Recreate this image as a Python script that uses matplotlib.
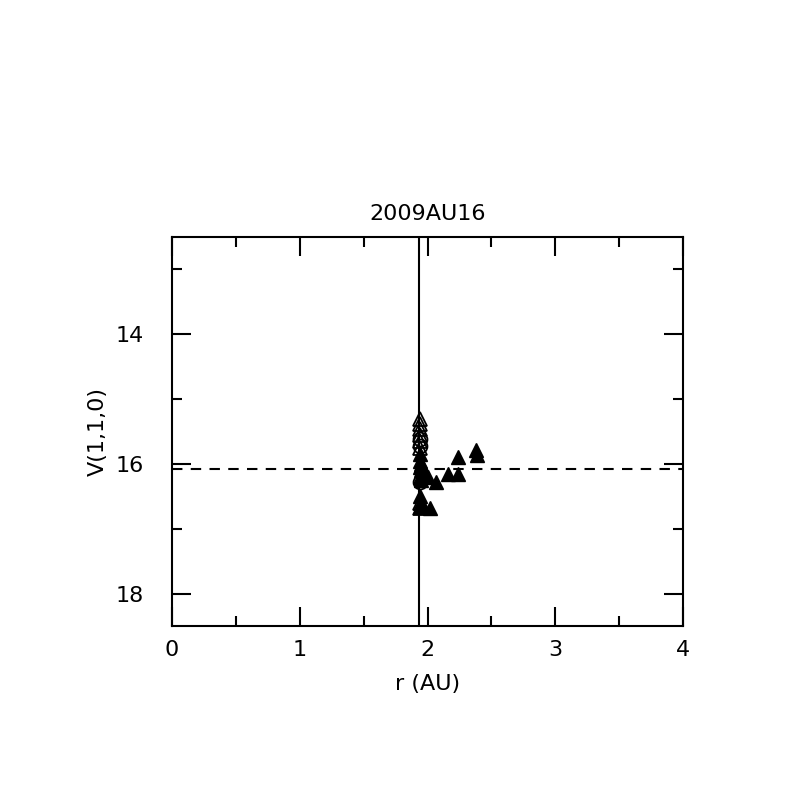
import numpy as np
import matplotlib.pyplot as plt
from matplotlib.ticker import MultipleLocator

# open triangles (near r = 1.94)
open_tri_r = [1.94, 1.94, 1.94, 1.94, 1.94, 1.94, 1.94, 1.94]
open_tri_v = [15.3, 15.38, 15.46, 15.55, 15.65, 15.75, 16.6, 16.68]

# open circles
open_circ_r = [1.94, 1.94, 1.94]
open_circ_v = [15.62, 15.72, 16.28]

# filled triangles
fill_tri_r = [1.94, 1.94, 1.95, 1.94, 1.95, 1.94, 1.95, 1.94, 1.95,
              2.00, 2.07, 2.16, 2.24, 2.24, 2.38, 2.39, 2.02, 1.94]
fill_tri_v = [15.85, 15.95, 16.0, 16.05, 16.1, 16.2, 16.25, 16.5, 16.58,
              16.2, 16.28, 16.15, 16.15, 15.89, 15.78, 15.86, 16.68, 16.66]

r_line = 1.93
v_line = 16.08

fig = plt.figure(figsize=(7.97, 7.97), dpi=100)
ax = fig.add_axes([0.2158, 0.2146, 0.6412, 0.488])

ax.axvline(r_line, color='black', lw=1.5)
ax.axhline(v_line, color='black', lw=1.5, ls=(0, (5, 4)))

ax.plot(fill_tri_r, fill_tri_v, '^', color='black', ms=10, ls='none')
ax.plot(open_tri_r, open_tri_v, '^', mfc='none', mec='black', mew=1.3, ms=10, ls='none')
ax.plot(open_circ_r, open_circ_v, 'o', mfc='none', mec='black', mew=1.3, ms=10, ls='none')

ax.set_xlim(0, 4)
ax.set_ylim(18.5, 12.5)
ax.xaxis.set_major_locator(MultipleLocator(1))
ax.xaxis.set_minor_locator(MultipleLocator(0.5))
ax.yaxis.set_major_locator(MultipleLocator(2))
ax.yaxis.set_minor_locator(MultipleLocator(1))
ax.tick_params(which='both', direction='in', top=True, right=True, width=1.5, labelsize=16)
ax.tick_params(which='major', length=14, pad=10)
ax.tick_params(axis='y', which='major', pad=20)
ax.tick_params(which='minor', length=7)
for s in ax.spines.values():
    s.set_linewidth(1.5)

ax.set_xlabel('r (AU)', fontsize=16, labelpad=10)
ax.set_ylabel('V(1,1,0)', fontsize=16, labelpad=6)
ax.set_title('2009AU16', fontsize=16, pad=12)

plt.savefig('out.png', dpi=100)
